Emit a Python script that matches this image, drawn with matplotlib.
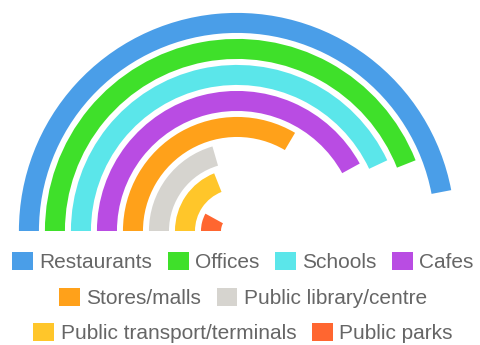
import numpy as np
import matplotlib
matplotlib.use("Agg")
import matplotlib.pyplot as plt
from matplotlib.patches import Patch

# porcentagem de cada local (semicirculo = 100%)
locais = ["Restaurants", "Offices", "Schools", "Cafes", "Stores/malls",
          "Public library/centre", "Public transport/terminals", "Public parks"]
valores = [94, 88, 86, 84, 67, 41, 38, 16]
cores = ["#4A9EE8", "#3FE02A", "#5BE6EA", "#B94CE3", "#FFA11A",
         "#D6D4CF", "#FFC62A", "#FF6630"]
linhas_legenda = [[0, 1, 2, 3], [4, 5], [6, 7]]

plt.rcParams["font.family"] = ["Liberation Sans", "DejaVu Sans"]

fig = plt.figure(figsize=(4.81, 3.45), dpi=100)
ax = fig.add_axes([18 / 481, -105 / 345, 438 / 481, 438 / 345], projection="polar")
ax.set_theta_zero_location("W")
ax.set_theta_direction(-1)

n = len(locais)
raios = np.arange(n, 0, -1)
angulos = np.array(valores) / 100 * np.pi
ax.barh(raios, angulos, left=0, height=0.77, color=cores, align="center")

ax.set_ylim(0, 8.42)
ax.set_rorigin(0)
ax.grid(False)
ax.set_xticks([])
ax.set_yticks([])
ax.spines["polar"].set_visible(False)
ax.patch.set_alpha(0)

# legenda centralizada em tres linhas
ys = [(345 - 262) / 345, (345 - 298) / 345, (345 - 333) / 345]
for linha, y in zip(linhas_legenda, ys):
    handles = [Patch(facecolor=cores[i], edgecolor="none", label=locais[i]) for i in linha]
    leg = fig.legend(handles=handles, loc="center", bbox_to_anchor=(0.505, y),
                     ncol=len(linha), frameon=False, fontsize=15,
                     handlelength=1.0, handleheight=0.95, handletextpad=0.3,
                     columnspacing=0.75, borderpad=0, borderaxespad=0)
    for t in leg.get_texts():
        t.set_color("#666666")

fig.savefig("out.png", dpi=100)
